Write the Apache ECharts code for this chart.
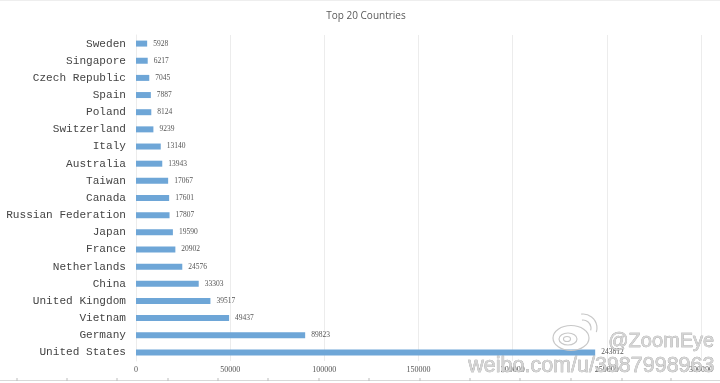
<!DOCTYPE html>
<html><head><meta charset="utf-8">
<style>html,body{margin:0;padding:0;background:#fff}#c{width:720px;height:383px}</style>
<script src="https://cdn.jsdelivr.net/npm/echarts@6/dist/echarts.min.js"></script>
</head><body><div id="c"></div>
<script>
const countries = ["Sweden","Singapore","Czech Republic","Spain","Poland","Switzerland","Italy","Australia","Taiwan","Canada","Russian Federation","Japan","France","Netherlands","China","United Kingdom","Vietnam","Germany","United States"];
const hosts = [5928,6217,7045,7887,8124,9239,13140,13943,17067,17601,17807,19590,20902,24576,33303,39517,49437,89823,243812];
const xTicks = [0,50000,100000,150000,200000,250000,300000];
const titleText = "Top 20 Countries";
const handle = "@ZoomEye";
const url = "weibo.com/u/3987998963";
const rulerTicks = [17,67,117,168,218,268,319,369,420,470,520,571,622,671];

const chart = echarts.init(document.getElementById('c'));
const wm = {fill:'#d4d4d4', stroke:'#8f8f8f', lineWidth:0.5, fontFamily:'Liberation Sans', fontWeight:'normal'};
const ring = {stroke:'#c8c8c8', lineWidth:1.2, fill:null};
chart.setOption({
  animation:false,
  backgroundColor:'#fff',
  title:{text:titleText,left:361,top:4,textAlign:'center',textStyle:{fontFamily:'Open Sans',fontSize:10,lineHeight:14,fontWeight:'normal',color:'#595959'}},
  grid:{left:136,right:19,top:35,bottom:22,containLabel:false},
  xAxis:{type:'value',position:'bottom',min:xTicks[0],max:xTicks[xTicks.length-1],interval:xTicks[1]-xTicks[0],
    axisLine:{show:false},axisTick:{show:false},
    splitLine:{lineStyle:{color:'#ececec',width:1}},
    axisLabel:{margin:5,fontFamily:'Liberation Serif',fontSize:8,color:'#555',formatter:v=>String(v)}},
  yAxis:{type:'category',inverse:true,data:countries,
    axisLine:{show:true,lineStyle:{color:'#ececec'}},axisTick:{show:false},
    axisLabel:{margin:10,fontFamily:'Liberation Mono',fontSize:11.1,color:'#444'}},
  series:[{type:'bar',data:hosts,barWidth:6,
    itemStyle:{color:'#6ea6d7'},
    label:{show:true,position:'right',distance:6,fontFamily:'Liberation Serif',fontSize:7.5,color:'#555',formatter:p=>String(p.value)}}],
  graphic:[
    {type:'line',z:1,shape:{x1:0,y1:0.5,x2:720,y2:0.5},style:{stroke:'#eeeeee',lineWidth:1}},
    {type:'line',z:1,shape:{x1:0,y1:380.5,x2:720,y2:380.5},style:{stroke:'#d8d8d8',lineWidth:1}},
    ...rulerTicks.map(x=>({type:'line',z:1,shape:{x1:x,y1:378,x2:x,y2:381},style:{stroke:'#bbbbbb',lineWidth:1}})),
    {type:'ellipse',z:10,shape:{cx:571,cy:338,rx:18,ry:12.5},style:ring},
    {type:'ellipse',z:10,shape:{cx:568,cy:339,rx:9,ry:6},style:ring},
    {type:'ellipse',z:10,shape:{cx:567,cy:339,rx:3.5,ry:2.5},style:ring},
    {type:'arc',z:10,shape:{cx:583,cy:328,r:8,startAngle:-1.7,endAngle:0.3},style:ring},
    {type:'arc',z:10,shape:{cx:583,cy:328,r:14,startAngle:-1.7,endAngle:0.3},style:ring},
    {type:'text',z:11,left:608,top:331,style:{text:handle,fontSize:20,...wm}},
    {type:'text',z:11,left:468,top:355,style:{text:url,fontSize:21.5,...wm}}
  ]
});
</script></body></html>
